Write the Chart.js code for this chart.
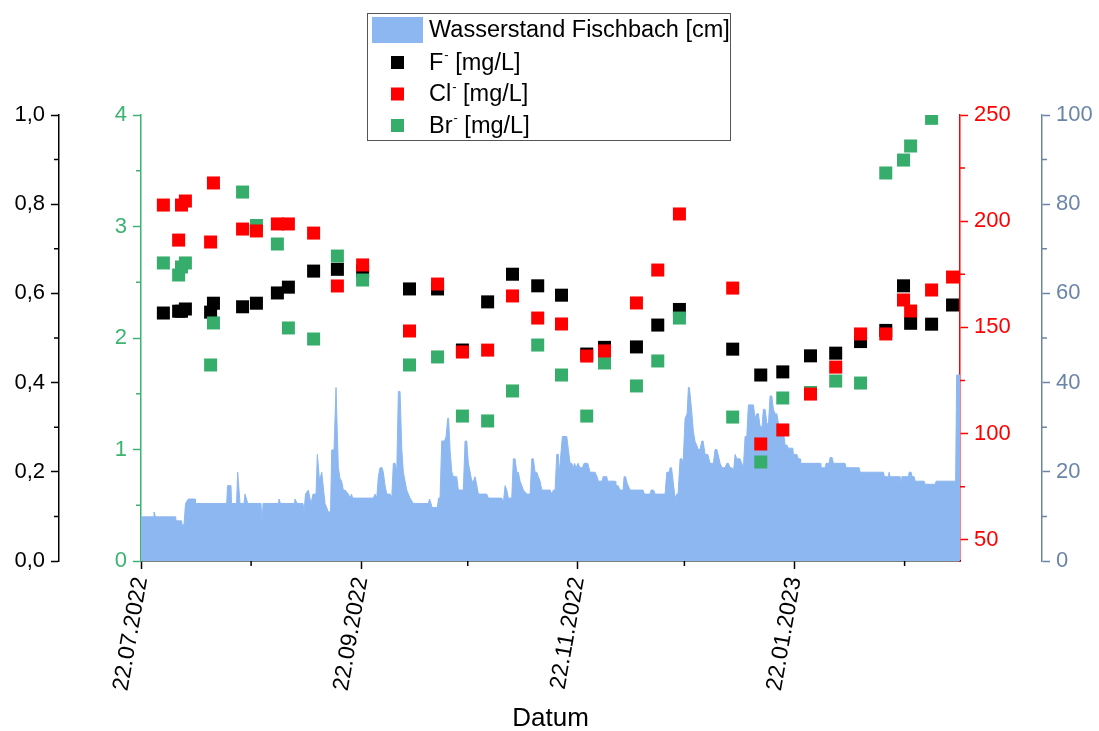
<!DOCTYPE html>
<html lang="de">
<head>
    <meta charset="UTF-8">
    <title>Wasserstand und Anionen Fischbach</title>
    <script src="https://cdn.jsdelivr.net/npm/chart.js@4"></script>
    <style>
        body { margin: 0; background: #ffffff; }
    </style>
</head>
<body>
    <canvas id="chart" width="1099" height="731"></canvas>

    <script>
        // Probenahmen, Tage seit 22.07.2022
        const probeTage = [6.3, 10.6, 11.4, 12.5, 19.6, 20.4, 28.6, 32.5, 38.4, 41.5, 48.6, 55.3,
            62.4, 75.6, 83.5, 90.5, 97.6, 104.6, 111.7, 118.4, 125.5, 130.5, 139.5, 145.5,
            151.6, 166.6, 174.5, 180.7, 188.5, 195.6, 202.6, 209.7, 214.7, 216.7, 222.6, 228.5];
        const fluorid = [0.556, 0.560, 0.560, 0.565, 0.558, 0.578, 0.570, 0.578, 0.601, 0.614, 0.650, 0.654,
            0.650, 0.610, 0.610, 0.473, 0.581, 0.643, 0.617, 0.596, 0.464, 0.479, 0.480, 0.529,
            0.564, 0.475, 0.417, 0.424, 0.460, 0.466, 0.492, 0.517, 0.617, 0.533, 0.531, 0.574];
        const chlorid = [207.6, 191.1, 207.6, 209.5, 190.2, 218.0, 196.3, 195.4, 198.7, 198.7, 194.4, 169.5,
            179.4, 148.3, 170.4, 138.4, 139.3, 164.8, 154.4, 151.6, 136.5, 138.9, 161.5, 177.0,
            203.4, 168.5, 95.1, 101.7, 118.6, 131.3, 146.9, 146.9, 162.9, 157.7, 167.6, 173.7];
        const bromid = [2.673, 2.565, 2.637, 2.673, 1.758, 2.135, 3.309, 3.009, 2.843, 2.090, 1.991, 2.735,
            2.520, 1.758, 1.830, 1.300, 1.256, 1.525, 1.937, 1.668, 1.300, 1.776, 1.570, 1.794,
            2.179, 1.291, 0.888, 1.462, 1.511, 1.614, 1.596, 3.480, 3.596, 3.722, 3.970, null];

        // Pegel Fischbach, Tage seit 22.07.2022 / Wasserstand in cm
        const pegelTage = [0, 3.5, 3.66, 4.08, 9.77, 9.86, 11.46, 11.55, 12.11, 12.53, 13.32, 15.21, 15.35,
            24.13, 24.36, 25.34, 25.49, 26.89, 27.23, 27.88, 29.0, 29.29, 30.05, 33.79, 34.07, 34.36,
            38.72, 38.86, 39.28, 43.23, 43.37, 43.93, 45.62, 45.9, 46.32, 47.11, 47.87, 48.44, 49.28,
            49.65, 50.27, 50.89, 51.82, 52.75, 53.37, 53.7, 54.35, 54.91, 55.56, 56.04, 56.46, 56.97,
            57.45, 58.38, 58.86, 59.28, 59.56, 65.42, 65.9, 66.38, 66.83, 67.3, 67.87, 68.23, 68.71,
            69.19, 70.12, 70.6, 71.05, 71.53, 72.01, 72.46, 72.94, 73.42, 73.87, 74.82, 75.75, 76.68,
            80.91, 81.24, 81.67, 81.95, 83.44, 83.78, 84.2, 84.68, 85.47, 85.89, 86.37, 86.6, 87.02,
            87.5, 87.95, 88.9, 89.36, 90.76, 91.24, 91.72, 92.17, 92.65, 93.13, 93.58, 94.06, 94.54,
            94.99, 97.35, 97.8, 101.58, 102.03, 102.51, 102.98, 103.43, 104.39, 104.84, 105.32, 105.8,
            106.25, 106.73, 107.21, 107.66, 108.62, 109.55, 110.03, 110.48, 110.95, 111.43, 111.88,
            112.36, 112.84, 115.18, 115.66, 116.11, 116.59, 117.06, 117.52, 117.71, 118.0, 118.64,
            119.88, 120.33, 120.81, 121.29, 121.74, 122.08, 122.5, 123.06, 123.63, 124.28, 124.75,
            125.79, 126.44, 127.85, 128.41, 128.78, 129.82, 130.1, 131.15, 131.37, 133.48, 133.68,
            134.33, 134.89, 135.74, 136.02, 136.44, 136.86, 137.71, 141.37, 141.73, 143.34, 143.62,
            144.32, 144.75, 147.56, 148.04, 148.69, 148.97, 149.39, 149.82, 150.38, 150.86, 151.22,
            151.79, 152.27, 152.63, 153.2, 153.76, 154.13, 154.41, 155.08, 155.53, 156.01, 156.49,
            156.94, 157.42, 157.9, 158.26, 158.83, 159.59, 160.24, 161.16, 161.64, 162.12, 162.49,
            163.05, 163.62, 164.46, 164.94, 165.39, 165.87, 166.43, 166.8, 167.28, 167.75, 168.68,
            169.61, 170.09, 170.57, 171.02, 172.43, 172.91, 173.39, 173.84, 174.32, 174.88, 175.24,
            175.72, 176.2, 176.65, 177.13, 177.61, 178.06, 178.54, 179.02, 179.47, 179.95, 180.88,
            181.36, 181.84, 182.29, 183.53, 183.69, 184.65, 185.1, 185.58, 185.72, 191.21, 191.41,
            192.62, 192.9, 193.75, 194.03, 194.59, 194.96, 198.25, 198.54, 202.2, 202.48, 209.04,
            209.32, 210.44, 210.64, 210.93, 213.74, 214.02, 214.22, 216.08, 216.28, 216.84, 217.12,
            217.69, 217.97, 220.5, 220.78, 223.6, 223.88, 229.37, 229.65, 230.64];
        const pegelCm = [9.9, 9.9, 11, 9.9, 9.9, 9.0, 9.0, 8.1, 8.1, 12.9, 13.9, 13.9, 12.9,
            12.9, 16.9, 16.9, 12.9, 12.9, 19.9, 12.9, 12.9, 15, 12.9, 12.9, 8.1, 12.9,
            12.9, 13.9, 12.9, 12.9, 13.9, 12.9, 12.9, 11, 15, 15.9, 12.9, 15, 15,
            23.9, 18, 19.9, 12.9, 11, 11, 24.9, 24.9, 38.9, 21, 18.5, 18, 15.9,
            15.9, 15, 14.1, 15, 14.1, 14.1, 15, 14.1, 18.9, 20.9, 20.9, 19.9, 17,
            15, 15, 14.1, 21.9, 21.9, 20, 38, 38, 25.3, 19.9, 15.9, 14.1, 12.9,
            12.9, 13.9, 12.9, 12, 12, 14.1, 14.1, 26.9, 26.9, 27.9, 32, 32, 25,
            20, 18.9, 18.9, 15.9, 15.9, 26.9, 26.9, 21.9, 20, 17.9, 17.9, 18.9, 17,
            15, 15, 14.1, 14.1, 13, 16.9, 15.9, 14.1, 14.1, 22.9, 22.9, 19.9,
            19.9, 17.9, 16.9, 15.9, 15, 15, 22.9, 22.9, 19.9, 19.9, 18.9,
            17.9, 15.9, 15.9, 15, 15.9, 15.9, 23.9, 23.9, 20, 21.9, 27.9,
            27.9, 25, 21.9, 21.9, 20.9, 21.9, 20.9, 21.9, 20.9, 20.9, 21.9,
            21.9, 19.9, 19.9, 18.9, 17.9, 17.9, 18.9, 18.9, 17.9, 17.9, 16.9,
            16.9, 15.9, 15.9, 18.9, 18.9, 17.5, 15.9, 15.9, 15, 15, 15.9,
            15.9, 15, 15, 19.9, 19.9, 20.9, 20.9, 17.9, 14.1, 15, 15,
            22.9, 22.9, 21.9, 32, 33, 38.9, 38.9, 33.4, 29, 26.8, 25.9,
            25, 25, 26.9, 26.9, 23.9, 23.9, 21.9, 21.9, 25, 25, 23.9,
            21.9, 20.9, 20.9, 21.9, 21.9, 20.9, 20.9, 19.9, 23.9, 22.9, 22.9,
            20.9, 27.9, 27.9, 35, 35, 32, 33, 33, 30.1, 30.1, 34,
            34, 31, 30.5, 37, 37, 34, 33, 33, 31, 29, 29,
            26, 26, 25.3, 25.3, 23.9, 23.9, 22.9, 22.9, 21.9, 21.9, 20.9,
            20.9, 21.9, 21.9, 23.2, 23.2, 21.9, 21.9, 20.9, 20.9, 19.9, 19.9,
            18.9, 18.9, 19.9, 18.9, 18.9, 17.9, 18.9, 18.9, 19.9, 19.9, 18.9,
            18.9, 17.9, 17.9, 17.2, 17.2, 17.9, 17.9, 41.7, 41.7];

        // Achsenbeschriftungen
        const datumTicks = ['22.07.2022', '22.09.2022', '22.11.2022', '22.01.2023'];
        const datumNeben = ['22.08.2022', '22.10.2022', '22.12.2022', '22.02.2023'];
        const fTicks = [0, 0.2, 0.4, 0.6, 0.8, 1.0];
        const brTicks = [0, 1, 2, 3, 4];
        const clTicks = [50, 100, 150, 200, 250];
        const pegelTicks = [0, 20, 40, 60, 80, 100];

        const START = Date.UTC(2022, 6, 22);
        const tagVon = d => {
            const [t, m, j] = d.split('.').map(Number);
            return (Date.UTC(j, m - 1, t) - START) / 864e5;
        };

        const farben = {
            f: '#000000',
            cl: '#ff0000',
            br: '#37ad6b',
            brAchse: '#3cb371',
            pegel: '#8db7f0',
            pegelAchse: '#6a85a8'
        };

        // Zwischenstriche (ohne Beschriftung)
        const nebenTicks = {
            x: datumNeben.map(tagVon),
            yF: [0.1, 0.3, 0.5, 0.7, 0.9],
            yBr: [0.5, 1.5, 2.5, 3.5],
            yCl: [75, 125, 175, 225],
            yPegel: [10, 30, 50, 70, 90]
        };

        const punkte = werte => probeTage
            .map((t, i) => ({ x: t, y: werte[i] }))
            .filter(p => p.y !== null);

        Chart.defaults.font.family = '"Liberation Sans", Arial, sans-serif';
        Chart.defaults.color = '#000';

        const setTicks = liste => s => { s.ticks = liste.map(v => ({ value: v })); };

        const yAchse = (pos, gewicht, breite, farbe, min, max, liste, fmt) => ({
            type: 'linear',
            position: pos,
            weight: gewicht,
            min: min,
            max: max,
            afterBuildTicks: setTicks(liste),
            afterFit: s => { s.width = breite; },
            ticks: { color: farbe, font: { size: 22 }, padding: 6, callback: fmt || (v => v) },
            grid: { drawOnChartArea: false, tickLength: 8, tickWidth: 1.5, tickColor: farbe },
            border: { color: farbe, width: 1.5 }
        });

        // Nebenstriche an den Achsen
        const nebenPlugin = {
            id: 'nebenTicks',
            afterDraw(chart) {
                const ctx = chart.ctx;
                ctx.save();
                ctx.lineWidth = 1.5;
                for (const [id, werte] of Object.entries(nebenTicks)) {
                    const s = chart.scales[id];
                    ctx.strokeStyle = s.options.border.color;
                    ctx.beginPath();
                    werte.forEach(v => {
                        const p = s.getPixelForValue(v);
                        if (s.isHorizontal()) {
                            ctx.moveTo(p, s.top);
                            ctx.lineTo(p, s.top + 5);
                        } else if (s.position === 'left') {
                            ctx.moveTo(s.right, p);
                            ctx.lineTo(s.right - 5, p);
                        } else {
                            ctx.moveTo(s.left, p);
                            ctx.lineTo(s.left + 5, p);
                        }
                    });
                    ctx.stroke();
                }
                ctx.restore();
            }
        };

        // Legende als Kasten oben in der Mitte
        const legendePlugin = {
            id: 'legende',
            afterDraw(chart) {
                const ctx = chart.ctx;
                const eintraege = [
                    { flaeche: true, farbe: farben.pegel, text: 'Wasserstand Fischbach [cm]' },
                    { farbe: farben.f, ion: 'F', text: ' [mg/L]' },
                    { farbe: farben.cl, ion: 'Cl', text: ' [mg/L]' },
                    { farbe: farben.br, ion: 'Br', text: ' [mg/L]' }
                ];
                const zeilen = [30, 62.5, 94, 125.5];
                ctx.save();
                ctx.fillStyle = '#ffffff';
                ctx.fillRect(367, 13, 364, 128);
                ctx.strokeStyle = '#555555';
                ctx.lineWidth = 1;
                ctx.strokeRect(367.5, 13.5, 363, 127);
                ctx.textBaseline = 'middle';
                eintraege.forEach((e, i) => {
                    const y = zeilen[i];
                    ctx.fillStyle = e.farbe;
                    if (e.flaeche) {
                        ctx.fillRect(372, y - 13, 51, 26);
                    } else {
                        ctx.fillRect(391, y - 6.5, 13, 13);
                    }
                    ctx.fillStyle = '#000';
                    ctx.font = '23.5px "Liberation Sans", Arial, sans-serif';
                    let x = 429;
                    if (e.ion) {
                        ctx.fillText(e.ion, x, y + 1);
                        x += ctx.measureText(e.ion).width + 1;
                        ctx.font = '13px "Liberation Sans", Arial, sans-serif';
                        ctx.fillText('-', x, y - 7);
                        x += ctx.measureText('-').width;
                        ctx.font = '23.5px "Liberation Sans", Arial, sans-serif';
                    }
                    ctx.fillText(e.text, x, y + 1);
                });
                ctx.restore();
            }
        };

        const punktSatz = (label, werte, farbe, achse, ordnung) => ({
            type: 'scatter',
            label: label,
            data: punkte(werte),
            yAxisID: achse,
            pointStyle: 'rect',
            pointRadius: 9.2,
            pointBorderWidth: 0,
            backgroundColor: farbe,
            borderColor: farbe,
            clip: 0,
            order: ordnung
        });

        new Chart(document.getElementById('chart'), {
            type: 'scatter',
            data: {
                datasets: [
                    {
                        type: 'line',
                        label: 'Wasserstand Fischbach [cm]',
                        data: pegelTage.map((t, i) => ({ x: t, y: pegelCm[i] })),
                        yAxisID: 'yPegel',
                        fill: 'origin',
                        backgroundColor: farben.pegel,
                        borderColor: farben.pegel,
                        borderWidth: 1,
                        pointRadius: 0,
                        tension: 0,
                        order: 3
                    },
                    punktSatz('F- [mg/L]', fluorid, farben.f, 'yF', 2),
                    punktSatz('Cl- [mg/L]', chlorid, farben.cl, 'yCl', 0),
                    punktSatz('Br- [mg/L]', bromid, farben.br, 'yBr', 1)
                ]
            },
            options: {
                responsive: false,
                animation: false,
                events: [],
                layout: { padding: { top: 115, left: 0, right: 0, bottom: 0 } },
                plugins: {
                    legend: { display: false },
                    tooltip: { enabled: false }
                },
                scales: {
                    x: {
                        type: 'linear',
                        min: 0,
                        max: 230.6,
                        afterBuildTicks: setTicks(datumTicks.map(tagVon)),
                        afterFit: s => { s.height = 170; },
                        ticks: {
                            autoSkip: false,
                            minRotation: 80,
                            maxRotation: 80,
                            padding: 6,
                            font: { size: 23 },
                            color: '#000',
                            callback: (v, i) => datumTicks[i]
                        },
                        grid: { drawOnChartArea: false, tickLength: 8, tickWidth: 1.5, tickColor: '#000' },
                        border: { color: '#000', width: 1.5 },
                        title: {
                            display: true,
                            text: 'Datum',
                            font: { size: 26 },
                            color: '#000',
                            padding: { top: 0, bottom: -3 }
                        }
                    },
                    yF: yAchse('left', 2, 59, farben.f, 0, 1, fTicks, v => v.toFixed(1).replace('.', ',')),
                    yBr: yAchse('left', 1, 82, farben.brAchse, 0, 4, brTicks),
                    yCl: yAchse('right', 1, 82, farben.cl, 40, 250, clTicks),
                    yPegel: yAchse('right', 2, 57, farben.pegelAchse, 0, 100, pegelTicks)
                }
            },
            plugins: [nebenPlugin, legendePlugin]
        });
    </script>
</body>
</html>
